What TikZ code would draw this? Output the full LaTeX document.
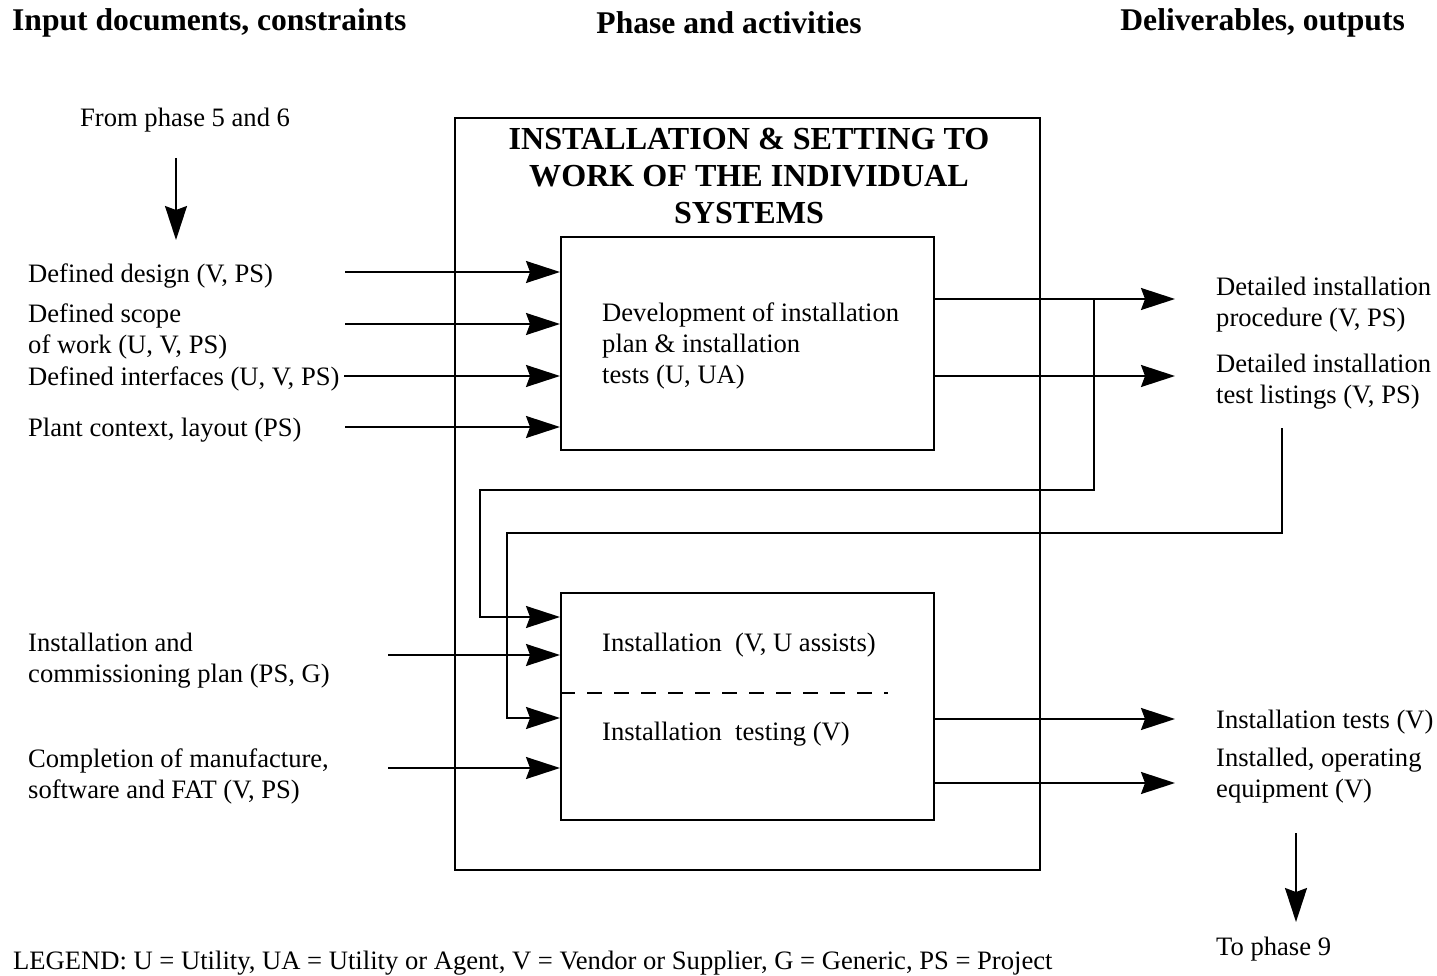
\documentclass[tikz,border=0pt]{standalone}
\usepackage{fontspec}
\setmainfont{Liberation Serif}
\usetikzlibrary{arrows.meta}
\begin{document}
\begin{tikzpicture}[x=1pt,y=-1pt,
  txt/.style={inner sep=0pt, font=\fontsize{26.6}{31}\selectfont, align=left, yshift=-3pt},
  head/.style={inner sep=0pt, font=\fontsize{31.6}{36}\selectfont\bfseries, yshift=-3pt},
  box/.style={draw, line width=2pt, inner sep=0pt},
  flow/.style={line width=1.8pt},
  arr/.style={flow, -{Stealth[length=34pt,width=22pt,inset=4pt]}},
]
\useasboundingbox (0,0) rectangle (1437,976);

% column headings
\node[head, anchor=west] (h1) at (12,20) {Input documents, constraints};
\node[head] (h2) at (729,20) {Phase and activities};
\node[head, anchor=east] (h3) at (1405,20) {Deliverables, outputs};

% phase box and its two activities
\node[box, minimum width=585pt, minimum height=752pt] (outer) at (747.5,494) {};
\node[inner sep=0pt, align=center, font=\fontsize{32.1}{37}\selectfont\bfseries] (title) at (749,176)
  {INSTALLATION \& SETTING TO\\WORK OF THE INDIVIDUAL\\SYSTEMS};
\node[box, minimum width=373pt, minimum height=213pt] (up) at (747.5,343.5) {};
\node[box, minimum width=373pt, minimum height=227pt] (lo) at (747.5,706.5) {};
\node[txt, anchor=west] (uptxt) at (602,343) {Development of installation\\plan \& installation\\tests (U, UA)};
\node[txt, anchor=west] (lo1) at (602,642) {Installation\ \ (V, U assists)};
\node[txt, anchor=west] (lo2) at (602,731) {Installation\ \ testing (V)};
\draw[line width=1.5pt, dash pattern=on 15pt off 12pt] (lo.west |- 0,693) -- (888,693);

% inputs
\node[txt, anchor=west] (from) at (80,117) {From phase 5 and 6};
\coordinate (fromtop) at (176,158);
\coordinate (frombot) at (176,240);
\draw[arr] (fromtop) -- (frombot);

\node[txt, anchor=west] (in1) at (28,273) {Defined design (V, PS)};
\node[txt, anchor=west] (in2) at (28,328) {Defined scope\\of work (U, V, PS)};
\node[txt, anchor=west] (in3) at (28,376) {Defined interfaces (U, V, PS)};
\node[txt, anchor=west] (in4) at (28,427) {Plant context, layout (PS)};
\node[txt, anchor=west] (in5) at (28,658) {Installation and\\commissioning plan (PS, G)};
\node[txt, anchor=west] (in6) at (28,773) {Completion of manufacture,\\software and FAT (V, PS)};

\coordinate (s1) at (345,272);
\coordinate (s2) at (345,324);
\coordinate (s3) at (344,376);
\coordinate (s4) at (345,427);
\coordinate (s5) at (388,655);
\coordinate (s6) at (388,768);
\draw[arr] (s1) -- (s1 -| up.west);
\draw[arr] (s2) -- (s2 -| up.west);
\draw[arr] (s3) -- (s3 -| up.west);
\draw[arr] (s4) -- (s4 -| up.west);
\draw[arr] (s5) -- (s5 -| lo.west);
\draw[arr] (s6) -- (s6 -| lo.west);

% outputs
\node[txt, anchor=west] (out1) at (1216,302) {Detailed installation\\procedure (V, PS)};
\node[txt, anchor=west] (out2) at (1216,379) {Detailed installation\\test listings (V, PS)};
\node[txt, anchor=west] (out3) at (1216,719) {Installation tests (V)};
\node[txt, anchor=west] (out4) at (1216,773) {Installed, operating\\equipment (V)};
\node[txt, anchor=west] (to9) at (1216,946) {To phase 9};

\coordinate (t1) at (1175,299);
\coordinate (t2) at (1175,376);
\coordinate (t3) at (1175,719);
\coordinate (t4) at (1175,783);
\draw[arr] (t1 -| up.east) -- (t1);
\draw[arr] (t2 -| up.east) -- (t2);
\draw[arr] (t3 -| lo.east) -- (t3);
\draw[arr] (t4 -| lo.east) -- (t4);

\coordinate (down9top) at (1296,833);
\coordinate (down9bot) at (1296,922);
\draw[arr] (down9top) -- (down9bot);

% feedback of the plans into the installation work
\coordinate (fb1) at (1094,299);
\coordinate (fb1in) at (480,617);
\draw[arr] (fb1) -- (1094,490) -- (480,490) -- (fb1in) -- (fb1in -| lo.west);
\coordinate (fb2) at (1282,428);
\coordinate (fb2in) at (507,718);
\draw[arr] (fb2) -- (1282,533) -- (507,533) -- (fb2in) -- (fb2in -| lo.west);

% legend
\node[txt, anchor=west] (legend) at (13,960) {LEGEND: U = Utility, UA = Utility or Agent, V = Vendor or Supplier, G = Generic, PS = Project};
\end{tikzpicture}
\end{document}
